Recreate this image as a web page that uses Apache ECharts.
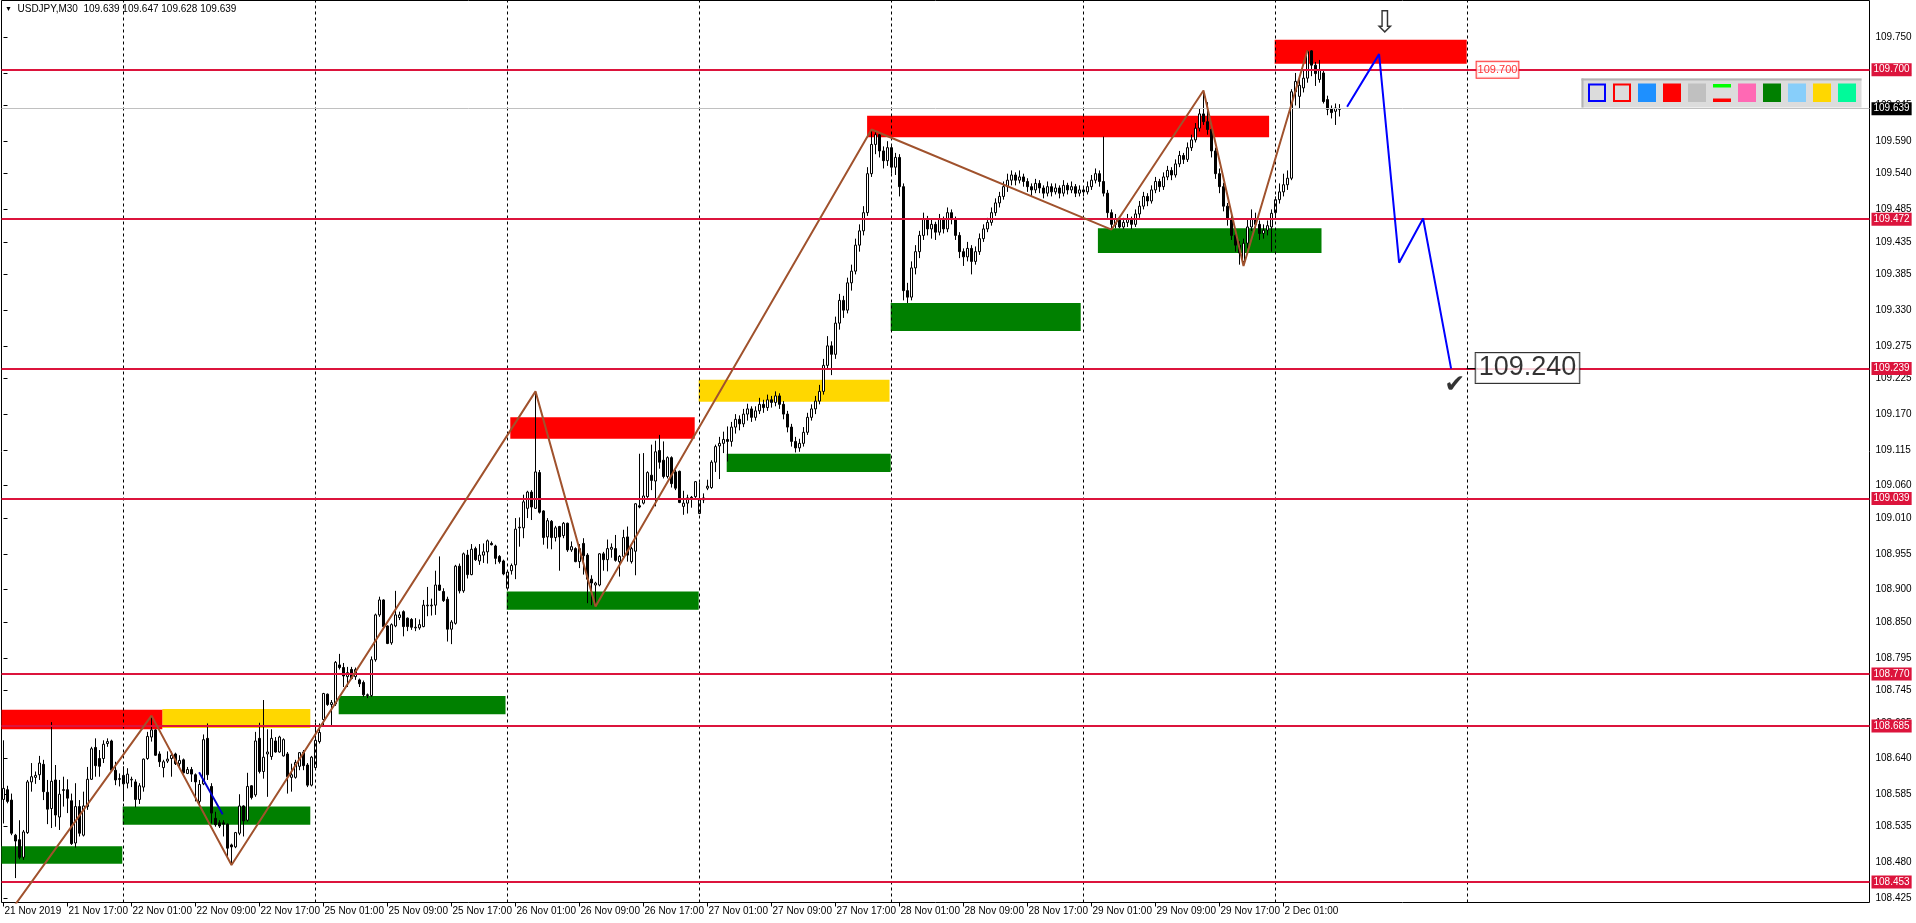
<!DOCTYPE html>
<html><head><meta charset="utf-8">
<script src="https://cdn.jsdelivr.net/npm/echarts/dist/echarts.min.js"></script>
<style>html,body{margin:0;padding:0;background:#fff}#c{width:1916px;height:923px}</style>
</head><body><div id="c"></div>
<script>
// ---- candle data (M30 bars, index 0 = 21 Nov 09:00) ----
const opens = [108.577,108.592,108.576,108.522,108.515,108.488,108.526,108.604,108.611,108.615,108.631,108.588,108.563,108.607,108.550,108.592,108.592,108.575,108.510,108.566,108.522,108.566,108.608,108.657,108.640,108.640,108.663,108.667,108.622,108.609,
108.614,108.602,108.607,108.604,108.577,108.596,108.640,108.673,108.684,108.647,108.626,108.636,108.640,108.647,108.632,108.638,108.617,108.623,108.615,108.574,108.601,108.671,108.597,108.548,108.541,108.541,108.539,108.507,108.504,108.525,
108.567,108.545,108.598,108.584,108.671,108.620,108.647,108.643,108.667,108.650,108.644,108.647,108.611,108.611,108.628,108.650,108.630,108.599,108.626,108.666,108.700,108.739,108.723,108.724,108.784,108.780,108.766,108.777,108.766,108.761,
108.757,108.738,108.737,108.792,108.861,108.884,108.844,108.818,108.844,108.857,108.866,108.856,108.854,108.841,108.841,108.843,108.875,108.875,108.876,108.907,108.897,108.885,108.839,108.848,108.936,108.898,108.953,108.923,108.963,108.944,
108.953,108.958,108.971,108.967,108.951,108.944,108.902,108.929,108.938,108.995,108.995,109.025,109.050,109.025,109.080,109.021,108.981,109.005,108.980,108.997,108.983,109.002,108.961,108.963,108.943,108.971,108.953,108.916,108.907,108.907,
108.955,108.946,108.962,108.963,108.943,108.951,108.981,108.943,108.959,109.029,109.033,109.043,109.076,109.067,109.114,109.099,109.074,109.103,109.081,109.082,109.028,109.033,109.042,109.043,109.017,109.038,109.056,109.057,109.096,109.121,
109.125,109.131,
109.128,109.150,109.162,109.155,109.170,109.178,109.165,109.175,109.185,109.180,
109.192,109.188,109.198,109.185,109.170,109.150,109.128,109.118,109.125,109.142,
109.165,109.178,109.190,109.205,109.245,109.275,109.262,109.310,109.345,109.330,
109.372,109.390,109.430,109.452,109.480,109.540,109.585,109.600,109.575,109.560,
109.580,109.550,109.565,109.520,109.360,109.350,109.395,109.420,109.445,109.470,
109.455,109.462,109.450,109.470,109.455,109.480,109.470,109.445,109.420,109.412,
109.425,109.405,109.420,109.440,109.455,109.465,109.480,109.495,109.505,109.520,
109.530,109.538,109.530,109.535,109.528,109.520,109.515,109.525,109.518,109.510,
109.520,109.512,109.518,109.510,109.522,109.515,109.520,109.510,109.515,109.512,
109.520,109.530,109.540,109.528,109.510,109.480,109.462,109.470,109.458,109.465,
109.470,109.462,109.478,109.490,109.505,109.498,109.515,109.528,109.520,109.535,
109.545,109.538,109.555,109.568,109.562,109.580,109.592,109.610,109.632,109.620,
109.608,109.575,109.540,109.520,109.490,109.470,109.445,109.430,109.405,109.433,
109.458,109.471,109.462,109.448,109.453,109.458,109.480,109.500,109.512,109.523,
109.533,109.666,109.659,109.672,109.687,109.729,109.707,109.685,109.695,109.654,
109.640,109.636,109.639];
const highs = [108.668,108.598,108.586,108.524,108.545,108.530,108.607,108.633,108.620,108.644,108.638,108.607,108.696,108.630,108.607,108.612,108.608,108.586,108.602,108.576,108.589,108.627,108.658,108.671,108.653,108.668,108.671,108.669,108.635,108.617,
108.628,108.625,108.612,108.608,108.602,108.640,108.681,108.706,108.685,108.651,108.638,108.651,108.651,108.649,108.645,108.640,108.627,108.627,108.617,108.607,108.677,108.694,108.602,108.558,108.545,108.545,108.540,108.509,108.527,108.585,
108.568,108.618,108.599,108.681,108.695,108.730,108.685,108.685,108.673,108.675,108.671,108.650,108.632,108.638,108.650,108.653,108.633,108.644,108.695,108.694,108.741,108.740,108.730,108.790,108.801,108.787,108.781,108.781,108.780,108.763,
108.760,108.740,108.797,108.863,108.889,108.885,108.845,108.848,108.898,108.866,108.868,108.857,108.856,108.856,108.854,108.884,108.904,108.886,108.929,108.951,108.902,108.889,108.853,108.938,108.940,108.957,108.961,108.970,108.966,108.970,
108.971,108.977,108.974,108.969,108.953,108.946,108.930,108.940,109.010,109.011,109.046,109.052,109.053,109.205,109.084,109.022,109.010,109.007,108.998,108.998,109.004,109.003,108.974,108.965,108.970,108.979,108.956,108.922,108.912,108.956,
108.958,108.977,108.971,108.984,108.953,108.992,108.997,108.966,109.033,109.109,109.110,109.082,109.123,109.129,109.138,109.128,109.105,109.105,109.084,109.083,109.052,109.046,109.044,109.067,109.065,109.048,109.069,109.099,109.123,109.135,
109.143,109.151,
109.158,109.170,109.168,109.178,109.186,109.182,109.182,109.195,109.192,109.200,
109.198,109.205,109.202,109.190,109.175,109.155,109.135,109.132,109.150,109.172,
109.185,109.198,109.215,109.255,109.290,109.282,109.320,109.355,109.352,109.380,
109.400,109.440,109.462,109.490,109.550,109.608,109.605,109.603,109.582,109.590,
109.585,109.572,109.570,109.525,109.372,109.405,109.430,109.452,109.480,109.475,
109.470,109.466,109.478,109.474,109.488,109.485,109.474,109.450,109.425,109.435,
109.430,109.428,109.448,109.462,109.472,109.488,109.502,109.512,109.528,109.540,
109.545,109.542,109.545,109.540,109.533,109.525,109.532,109.530,109.522,109.528,
109.525,109.525,109.522,109.530,109.526,109.528,109.524,109.522,109.520,109.528,
109.538,109.548,109.545,109.597,109.515,109.485,109.478,109.474,109.472,109.478,
109.474,109.485,109.498,109.512,109.510,109.522,109.535,109.532,109.542,109.552,
109.550,109.562,109.575,109.572,109.588,109.600,109.618,109.640,109.668,109.650,
109.615,109.580,109.548,109.526,109.495,109.478,109.452,109.436,109.440,109.470,
109.485,109.480,109.468,109.462,109.468,109.485,109.505,109.525,109.540,109.545,
109.670,109.695,109.690,109.700,109.730,109.730,109.712,109.715,109.700,109.660,
109.645,109.648,109.647];
const lows = [108.540,108.571,108.522,108.456,108.485,108.484,108.524,108.589,108.601,108.607,108.576,108.539,108.533,108.535,108.530,108.566,108.556,108.507,108.503,108.520,108.520,108.561,108.607,108.612,108.612,108.633,108.658,108.620,108.599,108.597,
108.574,108.594,108.596,108.565,108.570,108.589,108.638,108.666,108.644,108.627,108.611,108.633,108.612,108.630,108.625,108.617,108.616,108.604,108.574,108.566,108.599,108.607,108.540,108.535,108.533,108.520,108.489,108.476,108.502,108.522,
108.520,108.543,108.577,108.581,108.617,108.609,108.581,108.638,108.649,108.649,108.643,108.586,108.589,108.609,108.622,108.622,108.596,108.597,108.625,108.663,108.689,108.721,108.689,108.721,108.777,108.750,108.750,108.762,108.761,108.750,
108.735,108.733,108.735,108.789,108.858,108.840,108.816,108.815,108.842,108.853,108.828,108.836,108.838,108.836,108.838,108.842,108.859,108.860,108.861,108.898,108.881,108.820,108.816,108.846,108.894,108.895,108.917,108.922,108.944,108.938,
108.941,108.940,108.968,108.939,108.940,108.922,108.899,108.923,108.916,108.966,108.979,109.010,109.007,109.024,109.017,108.969,108.963,108.962,108.974,108.929,108.979,108.958,108.958,108.942,108.933,108.923,108.879,108.876,108.874,108.905,
108.929,108.928,108.949,108.943,108.920,108.949,108.943,108.940,108.922,109.025,109.031,109.041,109.053,109.028,109.086,109.071,109.071,109.057,109.053,109.033,109.015,109.017,109.026,109.041,109.016,109.033,109.053,109.055,109.081,109.070,
109.110,109.097,
109.120,109.140,109.145,109.150,109.160,109.158,109.160,109.170,109.172,109.175,
109.180,109.182,109.178,109.162,109.142,109.120,109.111,109.112,109.120,109.138,
109.160,109.170,109.185,109.200,109.238,109.230,109.255,109.300,109.318,109.325,
109.360,109.385,109.420,109.445,109.475,109.535,109.570,109.565,109.548,109.552,
109.540,109.538,109.505,109.345,109.341,109.345,109.385,109.410,109.438,109.445,
109.440,109.438,109.445,109.448,109.450,109.462,109.438,109.410,109.398,109.405,
109.385,109.400,109.415,109.435,109.450,109.460,109.475,109.488,109.500,109.512,
109.522,109.522,109.525,109.520,109.512,109.505,109.510,109.510,109.502,109.505,
109.505,109.508,109.502,109.505,109.508,109.510,109.504,109.505,109.505,109.508,
109.515,109.525,109.520,109.505,109.472,109.454,109.456,109.456,109.455,109.458,
109.455,109.458,109.472,109.485,109.490,109.494,109.510,109.512,109.515,109.530,
109.530,109.534,109.550,109.555,109.558,109.575,109.588,109.605,109.615,109.600,
109.565,109.532,109.510,109.482,109.460,109.438,109.420,109.400,109.398,109.425,
109.452,109.455,109.438,109.440,109.445,109.420,109.475,109.494,109.505,109.515,
109.530,109.645,109.640,109.665,109.680,109.690,109.675,109.680,109.648,109.630,
109.625,109.615,109.628];
const closes = [108.594,108.574,108.525,108.513,108.488,108.527,108.604,108.612,108.614,108.633,108.589,108.562,108.605,108.553,108.585,108.591,108.579,108.509,108.566,108.525,108.567,108.608,108.655,108.629,108.628,108.662,108.666,108.622,108.607,108.608,
108.601,108.616,108.608,108.577,108.598,108.639,108.674,108.684,108.645,108.635,108.635,108.639,108.645,108.632,108.637,108.618,108.623,108.616,108.604,108.600,108.669,108.615,108.556,108.538,108.536,108.539,108.502,108.504,108.526,108.567,
108.544,108.597,108.580,108.667,108.620,108.642,108.650,108.671,108.650,108.673,108.669,108.612,108.615,108.634,108.649,108.629,108.599,108.642,108.668,108.680,108.740,108.723,108.726,108.788,108.780,108.767,108.772,108.763,108.777,108.755,
108.738,108.737,108.792,108.861,108.884,108.843,108.817,108.846,108.861,108.861,108.843,108.843,108.842,108.842,108.846,108.876,108.876,108.876,108.907,108.899,108.883,108.839,108.850,108.936,108.898,108.955,108.923,108.962,108.946,108.953,
108.958,108.975,108.969,108.948,108.943,108.924,108.927,108.937,108.993,108.996,109.035,109.050,109.027,109.081,109.019,108.980,109.006,108.980,108.995,108.981,109.002,108.961,108.966,108.943,108.963,108.952,108.916,108.910,108.910,108.955,
108.946,108.963,108.965,108.945,108.951,108.980,108.953,108.963,109.032,109.027,109.044,109.080,109.068,109.112,109.096,109.074,109.103,109.063,109.056,109.034,109.033,109.041,109.039,109.066,109.039,109.041,109.059,109.096,109.120,109.125,
109.131,109.128,
109.150,109.162,109.155,109.170,109.178,109.165,109.175,109.185,109.180,109.192,
109.188,109.198,109.185,109.170,109.150,109.128,109.118,109.125,109.142,109.165,
109.178,109.190,109.205,109.245,109.275,109.262,109.310,109.345,109.330,109.372,
109.390,109.430,109.452,109.480,109.540,109.585,109.600,109.575,109.560,109.580,
109.550,109.565,109.520,109.360,109.350,109.395,109.420,109.445,109.470,109.455,
109.462,109.450,109.470,109.455,109.480,109.470,109.445,109.420,109.412,109.425,
109.405,109.420,109.440,109.455,109.465,109.480,109.495,109.505,109.520,109.530,
109.538,109.530,109.535,109.528,109.520,109.515,109.525,109.518,109.510,109.520,
109.512,109.518,109.510,109.522,109.515,109.520,109.510,109.515,109.512,109.520,
109.530,109.540,109.528,109.510,109.480,109.462,109.470,109.458,109.465,109.470,
109.462,109.478,109.490,109.505,109.498,109.515,109.528,109.520,109.535,109.545,
109.538,109.555,109.568,109.562,109.580,109.592,109.610,109.632,109.620,109.608,
109.575,109.540,109.520,109.490,109.470,109.445,109.430,109.418,109.433,109.458,
109.471,109.462,109.448,109.453,109.460,109.479,109.500,109.512,109.523,109.533,
109.666,109.682,109.676,109.687,109.728,109.707,109.694,109.700,109.651,109.639,
109.634,109.641,109.639];

// ---- axes ----
const xTickIdx = [0,16,32,48,64,80,96,112,128,144,160,176,192,208,224,240,256,272,288,304,320];
const xTickText = ['21 Nov 2019','21 Nov 17:00','22 Nov 01:00','22 Nov 09:00','22 Nov 17:00','25 Nov 01:00','25 Nov 09:00','25 Nov 17:00','26 Nov 01:00','26 Nov 09:00','26 Nov 17:00','27 Nov 01:00','27 Nov 09:00','27 Nov 17:00','28 Nov 01:00','28 Nov 09:00','28 Nov 17:00','29 Nov 01:00','29 Nov 09:00','29 Nov 17:00','2 Dec 01:00'];
const daySeparators = [30,78,126,174,222,270,318,366];
const yTicks = [109.750,109.695,109.645,109.590,109.540,109.485,109.435,109.385,109.330,109.275,109.225,109.170,109.115,109.060,109.010,108.955,108.900,108.850,108.795,108.745,108.695,108.640,108.585,108.535,108.480,108.425];

// ---- drawn objects (bar index, price) ----
const levels = [109.700,109.472,109.239,109.039,108.770,108.685,108.453];
const bidPrice = 109.639;
const redZones = [[-0.5,39.7,108.685,108.715],[126.7,172.8,109.132,109.165],[215.9,316.4,109.596,109.629],[317.8,365.8,109.709,109.746]];
const yellowZones = [[39.7,76.7,108.687,108.716],[173.8,221.5,109.189,109.223]];
const greenZones = [[-0.5,29.7,108.478,108.505],[29.8,76.7,108.538,108.566],[83.8,125.5,108.708,108.736],[125.8,173.8,108.869,108.897],[180.8,221.8,109.081,109.109],[221.8,269.3,109.298,109.341],[273.6,329.5,109.418,109.456]];
const zigzag = [[-2,108.373],[37,108.706],[57,108.476],[133,109.205],[148,108.874],[217,109.608],[277,109.454],[300,109.668],[310,109.398],[326,109.730]];
const blueShort = [[48.9,108.619],[54.8,108.554]];
const projection = [[335.9,109.643],[343.9,109.724],[348.9,109.403],[354.9,109.471],[361.9,109.240]];
const targetText = '109.240';
const targetAnchor = [[365.8,109.240],[368.6,109.240]];

const FONT = 'Liberation Sans';
const cats = Array.from({length: 467}, (_, k) => String(k));
const candles = opens.map((o, k) => [o, closes[k], lows[k], highs[k]]);

const zoneData = [];
const pushZones = (arr, color) => arr.forEach(z => zoneData.push([
  {coord: [z[0], z[3]], itemStyle: {color: color, opacity: 1}}, {coord: [z[1], z[2]]}]));
pushZones(greenZones, '#008000');
pushZones(yellowZones, '#FFD700');
pushZones(redZones, '#FF0000');

const levelLines = levels.map(v => ({
  yAxis: v,
  lineStyle: {color: '#DC143C', width: 2, type: 'solid'},
  label: {show: true, position: 'end', distance: 2, formatter: v.toFixed(3),
    color: '#fff', backgroundColor: '#DC143C', padding: [2, 2, 1, 2], fontSize: 10, fontFamily: FONT}
}));
levelLines.push({
  yAxis: bidPrice,
  lineStyle: {color: '#C0C0C0', width: 1, type: 'solid'},
  label: {show: true, position: 'end', distance: 2, formatter: bidPrice.toFixed(3),
    color: '#fff', backgroundColor: '#000', padding: [2, 2, 1, 2], fontSize: 10, fontFamily: FONT}
});
const sepLines = daySeparators.map(i => ({
  xAxis: i, lineStyle: {color: '#000', width: 1, type: [3, 3]}, label: {show: false}
}));

// palette toolbar (screen UI)
const palX = 1588, palY = 83.5, palStep = 25, palW = 18, palH = 18.5;
const palFill = ['outline:#0000FF','outline:#FF0000','#1E90FF','#FF0000','#C0C0C0','bars','#FF69B4','#008000','#87CEFA','#FFD700','#00FA9A'];
const palEls = [
  {type: 'rect', shape: {x: 1581.5, y: 78.5, width: 280, height: 29}, style: {fill: '#DCDCDC'}},
  {type: 'rect', shape: {x: 1581.5, y: 78.5, width: 280, height: 2}, style: {fill: '#B4B4B4'}},
  {type: 'rect', shape: {x: 1581.5, y: 78.5, width: 2, height: 29}, style: {fill: '#B4B4B4'}}
];
palFill.forEach((f, k) => {
  const x = palX + palStep * k;
  if (f.startsWith('outline:')) {
    palEls.push({type: 'rect', shape: {x: x + 1, y: palY + 1, width: palW - 2, height: palH - 2},
      style: {fill: '#DCDCDC', stroke: f.slice(8), lineWidth: 2}});
  } else if (f === 'bars') {
    palEls.push({type: 'rect', shape: {x: x, y: palY + 0.5, width: palW, height: 3.5}, style: {fill: '#00FF00'}});
    palEls.push({type: 'rect', shape: {x: x, y: palY + 15, width: palW, height: 3.5}, style: {fill: '#FF0000'}});
  } else {
    palEls.push({type: 'rect', shape: {x: x, y: palY, width: palW, height: palH}, style: {fill: f}});
  }
});

const chart = echarts.init(document.getElementById('c'), null, {renderer: 'canvas'});
chart.setOption({
  animation: false,
  backgroundColor: '#fff',
  grid: {left: 1.5, right: 46.5, top: 0.5, bottom: 20.5, show: true, borderColor: '#000', borderWidth: 1, backgroundColor: '#fff'},
  xAxis: [
    {type: 'category', data: cats, show: false, boundaryGap: true},
    {type: 'value', min: -0.5, max: 466.5, position: 'bottom',
      splitLine: {show: false}, axisLine: {show: false},
      axisTick: {show: true, customValues: xTickIdx, length: 4, lineStyle: {color: '#000'}},
      axisLabel: {customValues: xTickIdx, formatter: v => xTickText[xTickIdx.indexOf(v)],
        align: 'left', fontSize: 10, color: '#000', margin: 4, fontFamily: FONT, padding: [0, 0, 0, 1]}}
  ],
  yAxis: {type: 'value', position: 'right', min: 108.4184, max: 109.8065,
    splitLine: {show: false}, axisLine: {show: false},
    axisTick: {show: true, customValues: yTicks, length: 4, lineStyle: {color: '#000'}},
    axisLabel: {customValues: yTicks, formatter: v => v.toFixed(3), fontSize: 10, color: '#000', margin: 6, fontFamily: FONT}},
  graphic: [
    {type: 'text', left: 5, top: 4, z: 100, style: {
      text: '{a|▼}  USDJPY,M30  109.639 109.647 109.628 109.639',
      font: '10px "Liberation Sans"', fill: '#000',
      rich: {a: {fontSize: 7, fill: '#000'}}}},
    {type: 'group', z: 100, children: palEls}
  ],
  series: [
    {name: 'zones', type: 'line', xAxisIndex: 1, data: [], silent: true, z: 1,
      markArea: {silent: true, data: zoneData}},
    {name: 'separators', type: 'line', xAxisIndex: 1, data: [], silent: true, z: 2, clip: false,
      markLine: {silent: true, symbol: ['none', 'none'], data: sepLines}},
    {name: 'USDJPY', type: 'candlestick', xAxisIndex: 0, data: candles, barWidth: 2, z: 3, silent: true,
      itemStyle: {color: '#fff', color0: '#000', borderColor: '#000', borderColor0: '#000', borderWidth: 1}},
    {name: 'levels', type: 'line', xAxisIndex: 1, data: [], silent: true, z: 4, clip: false,
      markLine: {silent: true, symbol: ['none', 'none'], data: levelLines}},
    {name: 'zigzag', type: 'line', xAxisIndex: 1, data: zigzag, symbol: 'none', silent: true, z: 5,
      lineStyle: {color: '#A0522D', width: 2}},
    {name: 'blueShort', type: 'line', xAxisIndex: 1, data: blueShort, symbol: 'none', silent: true, z: 5,
      lineStyle: {color: '#0000CD', width: 2}},
    {name: 'projection', type: 'line', xAxisIndex: 1, data: projection, symbol: 'none', silent: true, z: 5,
      lineStyle: {color: '#0000FF', width: 2}},
    {name: 'anchor', type: 'line', xAxisIndex: 1, data: targetAnchor, symbol: 'none', silent: true, z: 5,
      lineStyle: {color: '#000', width: 1}},
    {name: 'texts', type: 'scatter', xAxisIndex: 1, silent: true, z: 6, clip: false, symbolSize: 1,
      itemStyle: {color: 'rgba(0,0,0,0)'},
      data: [
        {value: [373.5, levels[0]], label: {show: true, position: 'inside', formatter: levels[0].toFixed(3),
          fontSize: 11, fontFamily: FONT, color: '#FF0000', backgroundColor: '#fff', borderColor: '#FF0000', borderWidth: 1, padding: [3, 1, 2, 1]}},
        {value: [381, 109.241], label: {show: true, position: 'inside', formatter: targetText,
          fontSize: 27, fontFamily: FONT, color: '#000', backgroundColor: '#fff', borderColor: '#000', borderWidth: 1, padding: [2, 3, 1, 3]}},
        {value: [362.8, 109.214], label: {show: true, position: 'inside', formatter: '✔',
          fontSize: 25, fontFamily: 'DejaVu Sans', color: '#000'}},
        {value: [345.3, 109.770], label: {show: true, position: 'inside', formatter: '⇩',
          fontSize: 30, fontFamily: 'DejaVu Sans', color: '#000'}}
      ]}
  ]
});
</script>
</body></html>
